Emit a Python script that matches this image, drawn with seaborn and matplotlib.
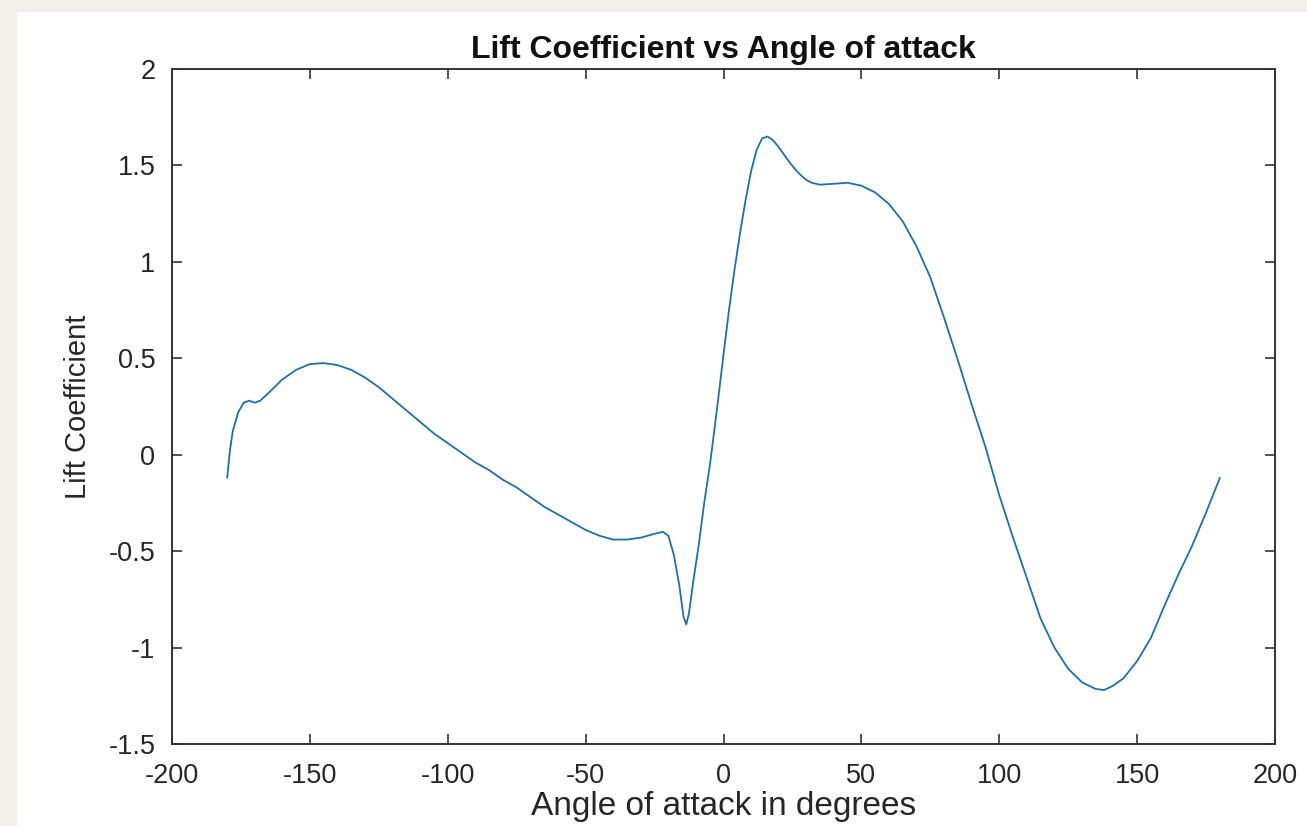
import matplotlib
matplotlib.use("Agg")
import matplotlib.pyplot as plt
import seaborn as sns
import pandas as pd
from matplotlib.patches import Rectangle

# ---- data ----
angle_deg = [-180, -179, -178, -176, -174, -172, -170, -168, -165, -160, -155, -150,
             -145, -140, -135, -130, -125, -120, -115, -110, -105, -100, -95, -90,
             -85, -80, -75, -70, -65, -60, -55, -50, -45, -40, -35, -30, -25, -22,
             -20, -18, -16, -14.5, -13.5, -12.5, -11, -9, -7, -5, -4, -2, 0, 2, 4,
             6, 8, 10, 12, 14, 16, 18, 20, 22, 24, 26, 28, 30, 32, 35, 40, 45, 50,
             55, 60, 65, 70, 75, 80, 85, 90, 95, 100, 105, 110, 115, 120, 125, 130,
             135, 138, 141, 145, 150, 155, 160, 165, 170, 175, 180]
lift_coef = [-0.12, 0.02, 0.12, 0.22, 0.27, 0.28, 0.27, 0.28, 0.32, 0.39, 0.44, 0.47,
             0.475, 0.465, 0.44, 0.40, 0.35, 0.29, 0.23, 0.17, 0.11, 0.06, 0.01, -0.04,
             -0.08, -0.13, -0.17, -0.22, -0.27, -0.31, -0.35, -0.39, -0.42, -0.44, -0.44,
             -0.43, -0.41, -0.40, -0.42, -0.52, -0.68, -0.84, -0.88, -0.82, -0.66, -0.47,
             -0.25, -0.06, 0.05, 0.28, 0.52, 0.75, 0.96, 1.15, 1.32, 1.47, 1.58, 1.64,
             1.65, 1.63, 1.595, 1.555, 1.515, 1.48, 1.45, 1.425, 1.41, 1.40, 1.405, 1.41,
             1.395, 1.36, 1.30, 1.21, 1.08, 0.92, 0.71, 0.49, 0.26, 0.04, -0.21, -0.43,
             -0.64, -0.85, -1.00, -1.11, -1.18, -1.215, -1.22, -1.20, -1.16, -1.07,
             -0.95, -0.78, -0.62, -0.47, -0.30, -0.12]
x_ticks = [-200, -150, -100, -50, 0, 50, 100, 150, 200]
y_ticks = [-1.5, -1, -0.5, 0, 0.5, 1, 1.5, 2]
y_tick_labels = ["-1.5", "-1", "-0.5", "0", "0.5", "1", "1.5", "2"]

df = pd.DataFrame({"angle": angle_deg, "cl": lift_coef})

sns.set_theme(style="white")
plt.rcParams["font.family"] = ["Liberation Sans", "DejaVu Sans"]

W, H = 1307, 826
fig = plt.figure(figsize=(W / 100, H / 100), dpi=100, facecolor="#f2efe8")
fig.patches.append(Rectangle((17 / W, 0), 1 - 17 / W, 1 - 12 / H,
                             transform=fig.transFigure, facecolor="white",
                             edgecolor="none", zorder=-10))
ax = fig.add_axes([172 / W, (H - 744) / H, (1275 - 172) / W, (744 - 69) / H])
ax.set_zorder(5)
ax.set_facecolor("white")

sns.lineplot(data=df, x="angle", y="cl", ax=ax, color="#1f6fa8", linewidth=1.3,
             sort=False, estimator=None)

ax.set_xlim(-200, 200)
ax.set_ylim(-1.5, 2)
ax.set_xticks(x_ticks)
ax.set_xticklabels([str(t) for t in x_ticks])
ax.set_yticks(y_ticks)
ax.set_yticklabels(y_tick_labels)

for s in ax.spines.values():
    s.set_visible(True)
    s.set_color("#333333")
    s.set_linewidth(1.4)

ax.tick_params(axis="both", which="both", direction="in", length=7, width=1.2,
               color="#333333", labelcolor="#262626", labelsize=19.5,
               top=True, right=True, bottom=True, left=True)
ax.tick_params(axis="x", pad=14)
ax.tick_params(axis="y", pad=12)

ax.set_xlabel("Angle of attack in degrees", fontsize=24, color="#262626", labelpad=1)
ax.set_ylabel("Lift Coefficient", fontsize=21, color="#262626", labelpad=12)
ax.set_title("Lift Coefficient vs Angle of attack", fontsize=23, fontweight="bold",
             color="#111111", pad=8)

fig.savefig("out.png", dpi=100, facecolor=fig.get_facecolor())
